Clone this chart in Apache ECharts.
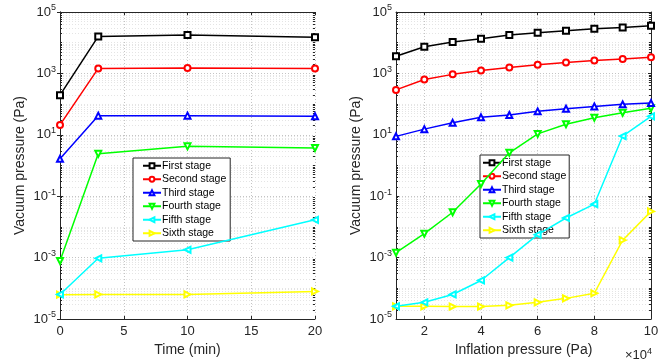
<!DOCTYPE html>
<html>
<head>
<meta charset="utf-8">
<script src="https://cdn.jsdelivr.net/npm/echarts@6/dist/echarts.min.js"></script>
<style>
  html, body { margin: 0; padding: 0; background: #fff; }
  #chart { width: 670px; height: 362px; }
</style>
</head>
<body>
<div id="chart"></div>
<script>
// left panel: vacuum pressure vs time
const timeMin = [0, 3, 10, 20]
const tFirst = [195, 16000, 17800, 15000]
const tSecond = [21, 1450, 1500, 1450]
const tThird = [1.65, 42, 42, 40]
const tFourth = [0.00078, 2.4, 4.2, 3.7]
const tFifth = [0.000063, 0.00095, 0.0018, 0.017]
const tSixth = [0.000062, 0.000063, 0.000063, 0.000079]

// right panel: vacuum pressure vs inflation pressure (x1e4 Pa)
const inflation = [1, 2, 3, 4, 5, 6, 7, 8, 9, 10]
const pFirst = [3600, 7400, 10500, 13400, 17700, 21000, 24400, 28300, 31500, 35400]
const pSecond = [290, 630, 930, 1250, 1560, 1900, 2250, 2630, 2960, 3370]
const pThird = [8.9, 15.3, 24.5, 37, 44, 58, 71, 84, 98, 108]
const pFourth = [0.00145, 0.006, 0.03, 0.25, 2.6, 10.7, 22, 36, 52, 73]
const pFifth = [0.000026, 0.000035, 0.000063, 0.00018, 0.001, 0.0056, 0.0195, 0.055, 9.1, 40]
const pSixth = [0.000026, 0.000026, 0.0000255, 0.0000255, 0.000028, 0.000035, 0.000047, 0.000069, 0.0037, 0.032]

const stageNames = ['First stage', 'Second stage', 'Third stage', 'Fourth stage', 'Fifth stage', 'Sixth stage']
const timeTicks = [0, 5, 10, 15, 20]
const inflationTicks = [2, 4, 6, 8, 10]
const yTicks = [1e-5, 1e-3, 1e-1, 1e1, 1e3, 1e5]

const FONT = 'Liberation Sans, Arial, Helvetica, sans-serif'
const INK = '#262626'
const colors = ['#000000', '#ff0000', '#0000ff', '#00ff00', '#00ffff', '#ffff00']
const symbols = ['emptyRect', 'emptyCircle', 'emptyTriangle', 'emptyTriangle', 'emptyTriangle', 'emptyTriangle']
const rotations = [0, 0, 0, 180, 90, -90]

// minor log ticks: 2..9 of every decade plus the unlabeled decades
const yMinor = []
for (let e = -5; e < 5; e++) {
  for (let k = 2; k <= 9; k++) yMinor.push(+(k * Math.pow(10, e)).toPrecision(3))
  if (e % 2 === 0) yMinor.push(Math.pow(10, e))
}

const supRich = {
  base: { fontSize: 13, color: INK, fontFamily: FONT },
  sup: { fontSize: 9, color: INK, fontFamily: FONT, padding: [0, 0, 8, 0] },
}
const powLabel = (v) => `{base|10}{sup|${Math.round(Math.log10(v))}}`

const grids = [
  { left: 60, right: 355, top: 12, bottom: 40 },
  { left: 396, right: 19, top: 12, bottom: 40 },
]

function xPair(gi, min, max, ticks, name) {
  return [
    {
      type: 'value', gridIndex: gi, min, max, position: 'bottom',
      name, nameLocation: 'middle', nameGap: 24,
      nameTextStyle: { fontSize: 14, color: INK, fontFamily: FONT },
      axisLine: { lineStyle: { color: INK, width: 1 } },
      axisTick: { inside: true, length: 3, customValues: ticks, lineStyle: { color: INK } },
      axisLabel: { customValues: ticks, fontSize: 13, color: INK, fontFamily: FONT, margin: 6 },
      splitLine: { show: true, lineStyle: { color: '#c4c4c4', type: [1, 2], width: 1 } },
    },
    {
      type: 'value', gridIndex: gi, min, max, position: 'top',
      axisLine: { lineStyle: { color: INK, width: 1 } },
      axisTick: { inside: true, length: 3, customValues: ticks, lineStyle: { color: INK } },
      axisLabel: { show: false },
      splitLine: { show: false },
    },
  ]
}

function yQuad(gi) {
  const base = { type: 'log', logBase: 10, gridIndex: gi, min: 1e-5, max: 1e5 }
  return [
    {
      ...base, position: 'left',
      name: 'Vacuum pressure (Pa)', nameLocation: 'middle', nameGap: 33,
      nameTextStyle: { fontSize: 14, color: INK, fontFamily: FONT },
      axisLine: { show: true, lineStyle: { color: INK, width: 1 } },
      axisTick: { inside: true, length: 3, customValues: yTicks, lineStyle: { color: INK } },
      axisLabel: { customValues: yTicks, formatter: powLabel, rich: supRich, margin: 4 },
      splitLine: { show: true, lineStyle: { color: '#c4c4c4', type: [1, 2], width: 1 } },
    },
    {
      ...base, position: 'right',
      axisLine: { show: true, lineStyle: { color: INK, width: 1 } },
      axisTick: { inside: true, length: 3, customValues: yTicks, lineStyle: { color: INK } },
      axisLabel: { show: false },
      splitLine: { show: false },
    },
    {
      ...base, position: 'left',
      axisLine: { show: false },
      axisTick: { inside: true, length: 2, customValues: yMinor, lineStyle: { color: INK } },
      axisLabel: { show: false },
      splitLine: { show: true, lineStyle: { color: '#e4e4e4', type: [1, 2], width: 1 } },
    },
    {
      ...base, position: 'right',
      axisLine: { show: false },
      axisTick: { inside: true, length: 2, customValues: yMinor, lineStyle: { color: INK } },
      axisLabel: { show: false },
      splitLine: { show: false },
    },
  ]
}

function stageSeries(xs, sets, xi, yi) {
  return sets.map((vals, i) => ({
    name: stageNames[i],
    type: 'line',
    xAxisIndex: xi,
    yAxisIndex: yi,
    data: xs.map((x, j) => [x, vals[j]]),
    symbol: symbols[i],
    symbolRotate: rotations[i],
    symbolSize: 6,
    color: colors[i],
    lineStyle: { color: colors[i], width: 1.5 },
    itemStyle: { color: colors[i], borderWidth: 1.2 },
    z: 10 - i,
    animation: false,
  }))
}

function legendAt(left, top, padLeft, padRight) {
  return {
    left, top, orient: 'vertical',
    data: stageNames,
    backgroundColor: '#fff',
    borderColor: INK, borderWidth: 1,
    padding: [1, padRight, 1, padLeft],
    itemGap: 0,
    itemWidth: 18, itemHeight: 6,
    textStyle: { fontSize: 10.5, lineHeight: 13.5, color: '#000', fontFamily: FONT, padding: [0, 0, 0, -4] },
    selectedMode: false,
  }
}

const chart = echarts.init(document.getElementById('chart'))
chart.setOption({
  animation: false,
  backgroundColor: '#fff',
  textStyle: { fontFamily: FONT },
  title: {
    text: '×{base|10}{sup|4}',
    left: 620, top: 342,
    textStyle: { fontSize: 13, fontWeight: 'normal', color: INK, fontFamily: FONT, rich: supRich },
  },
  grid: grids,
  xAxis: [
    ...xPair(0, 0, 20, timeTicks, 'Time (min)'),
    ...xPair(1, 1, 10, inflationTicks, 'Inflation pressure (Pa)'),
  ],
  yAxis: [...yQuad(0), ...yQuad(1)],
  legend: [legendAt(133, 158, 9, 4), legendAt(480, 155, 2, 3)],
  series: [
    ...stageSeries(timeMin, [tFirst, tSecond, tThird, tFourth, tFifth, tSixth], 0, 0),
    ...stageSeries(inflation, [pFirst, pSecond, pThird, pFourth, pFifth, pSixth], 2, 4),
  ],
})
</script>
</body>
</html>
